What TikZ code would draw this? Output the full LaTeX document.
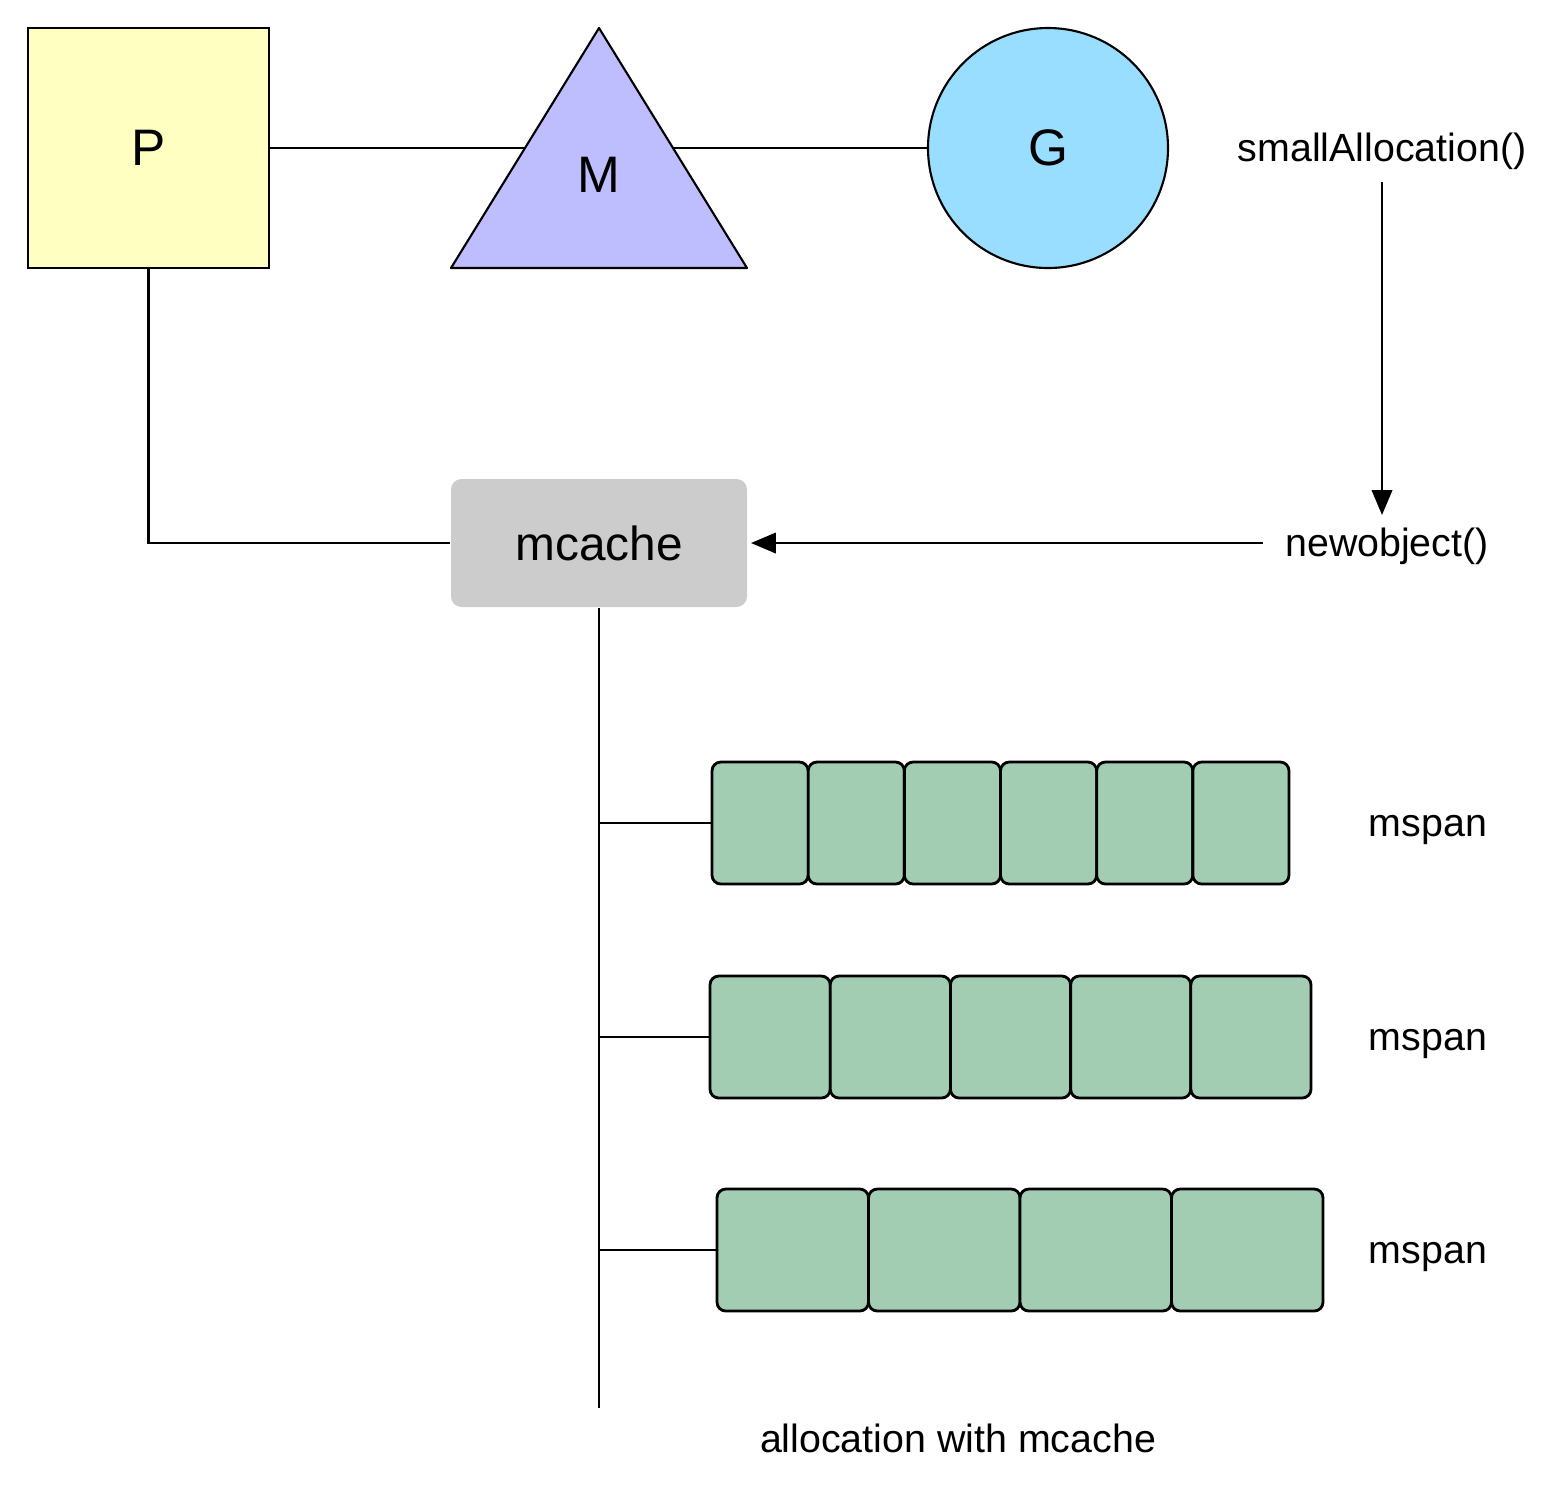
\documentclass[tikz,border=0pt]{standalone}
\usepackage{fontspec}
\setmainfont{Liberation Sans}
\usepackage{tikz}
\usetikzlibrary{shapes,arrows,positioning,calc}
\definecolor{pyellow}{RGB}{255,255,194}
\definecolor{mpurple}{RGB}{190,190,255}
\definecolor{gblue}{RGB}{153,221,255}
\definecolor{cachegray}{RGB}{204,204,204}
\definecolor{spangreen}{RGB}{162,205,179}

\begin{document}
\begin{tikzpicture}[line width=0.6pt,
    big/.style={font=\fontsize{14.6}{16}\selectfont},
    lbl/.style={font=\fontsize{11.2}{13}\selectfont},
    cell/.style={draw,line width=0.8pt,fill=spangreen,rounded corners=2.5pt,
      minimum height=1.22cm,inner sep=0pt,outer sep=0pt}]
  \useasboundingbox (0,0) rectangle (15.62,-14.97);

  % P, M, G
  \node[draw,fill=pyellow,minimum width=2.41cm,minimum height=2.40cm,inner sep=0pt,big] (P) at (1.485,-1.48) {P};
  \coordinate (Mtop) at (5.99,-0.28);
  \coordinate (Mleft) at (4.51,-2.68);
  \coordinate (Mright) at (7.47,-2.68);
  \filldraw[fill=mpurple,line join=round] (Mtop) -- (Mleft) -- (Mright) -- cycle;
  \node[big] (M) at (5.99,-1.75) {M};
  \node[circle,draw,fill=gblue,minimum size=2.40cm,inner sep=0pt,big] (G) at (10.48,-1.48) {G};

  \draw (P.east) -- ($(Mtop)!0.5!(Mleft)$);
  \draw ($(Mtop)!0.5!(Mright)$) -- (G.west);

  % calls
  \node[lbl] (alloc) at (13.82,-1.51) {smallAllocation()};
  \node[lbl] (newobj) at (13.87,-5.46) {newobject()};
  \draw[-triangle 45] (alloc.south) -- (alloc.south |- newobj.north);

  % mcache
  \node[fill=cachegray,rounded corners=3pt,minimum width=2.96cm,minimum height=1.28cm,
    font=\fontsize{13.6}{15}\selectfont] (mcache) at (5.99,-5.43) {mcache};
  \draw[-triangle 45] ([xshift=-0.1cm]newobj.west |- mcache.east) -- ([xshift=0.03cm]mcache.east);
  \draw (P.south) |- (mcache.west);

  \coordinate (trunk) at (5.99,-14.08);
  \draw (mcache.south) -- (trunk);

  % mspans: row / cells / left / right / y
  \foreach \r/\n/\xa/\xb/\yy in {1/6/7.12/12.89/8.23, 2/5/7.10/13.11/10.37, 3/4/7.17/13.23/12.50} {
    \pgfmathsetmacro\w{(\xb-\xa)/\n}
    \foreach \c in {1,...,\n} {
      \node[cell,minimum width=\w cm] (s\r-\c) at ({\xa+(\c-0.5)*\w},-\yy) {};
    }
    \coordinate (b\r) at (trunk |- s\r-1.west);
    \draw (b\r) -- (s\r-1.west);
    \node[lbl] (ms\r) at (14.28,-\yy-0.07) {mspan};
  }

  \node[lbl] (caption) at (9.58,-14.38) {allocation with mcache};
\end{tikzpicture}
\end{document}
